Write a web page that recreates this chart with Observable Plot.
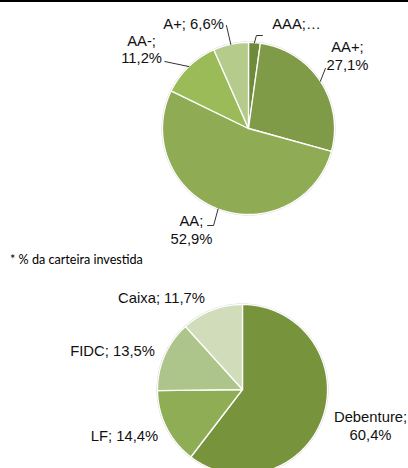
<!DOCTYPE html>
<html>
<head>
<meta charset="utf-8">
<script src="https://cdn.jsdelivr.net/npm/d3@7"></script>
<script src="https://cdn.jsdelivr.net/npm/@observablehq/plot@0.6"></script>
<style>
  html, body { margin: 0; padding: 0; background: #fff; }
  #wrap { width: 408px; height: 468px; overflow: hidden; position: relative; }
  #topline { height: 2px; background: #000; }
  #caption { height: 20px; line-height: 20px; padding-left: 10px; font-family: Lato, "Open Sans", sans-serif; font-size: 12.6px; color: #000; }
  svg { display: block; }
</style>
</head>
<body>
<div id="wrap">
  <div id="topline"></div>
  <div id="top"></div>
  <div id="caption">* % da carteira investida</div>
  <div id="bottom"></div>
</div>
<script>
// ---- data ----
const ratingNames = ["AAA", "AA+", "AA", "AA-", "A+"];
const ratingValues = [2.2, 27.1, 52.9, 11.2, 6.6];
const ratingLabels = ["AAA;\u2026", "AA+;\n27,1%", "AA;\n52,9%", "AA-;\n11,2%", "A+; 6,6%"];
const ratingColors = ["#6e8b3c", "#7f9b48", "#8fac55", "#9bbb59", "#b4cb8c"];

const assetNames = ["Debenture", "LF", "FIDC", "Caixa"];
const assetValues = [60.4, 14.4, 13.5, 11.7];
const assetLabels = ["Debenture;\n60,4%", "LF; 14,4%", "FIDC; 13,5%", "Caixa; 11,7%"];
const assetColors = ["#77933c", "#8fad55", "#adc58b", "#d0dcba"];

const caption = "* % da carteira investida";

// ---- layout (label nudges relative to slice mid-angle) ----
const ratingLabelLayout = [
  {da: 20.6, r: 1.342}, {da: -3.1, r: 1.43}, {da: 8.8, r: 1.348}, {da: -9.4, r: 1.55}, {da: -15.7, r: 1.379}
];
const ratingLeaderLayout = [
  {da: 0.9, r: 1.085, hx: 0.07}, {da: -4.7, r: 1.135, hx: 0}, {da: -0.9, r: 1.199, hx: -0.07},
  {da: -7.4, r: 1.246, hx: 0}, {da: -0.2, r: 1.225, hx: 0}
];
const assetLabelLayout = [
  {da: -3.0, r: 1.565}, {da: 5.3, r: 1.49}, {da: -6.9, r: 1.596}, {da: -20.3, r: 1.442}
];

document.getElementById("caption").textContent = caption;

const rad = d => d * Math.PI / 180;
const pt = (a, r) => ({x: r * Math.sin(rad(a)), y: r * Math.cos(rad(a))});

function slices(names, values) {
  const total = d3.sum(values);
  let acc = 0;
  return names.map((n, i) => {
    const a0 = acc / total * 360;
    acc += values[i];
    const a1 = acc / total * 360;
    return {name: n, value: values[i], a0, a1, mid: (a0 + a1) / 2};
  });
}

function polygons(sl) {
  const pts = [];
  for (const s of sl) {
    pts.push({name: s.name, x: 0, y: 0});
    const steps = Math.max(2, Math.ceil((s.a1 - s.a0) / 0.5));
    for (let k = 0; k <= steps; k++) {
      const a = s.a0 + (s.a1 - s.a0) * k / steps;
      pts.push({name: s.name, ...pt(a, 1)});
    }
  }
  return pts;
}

function circle() {
  const c = [];
  for (let a = 0; a <= 360; a += 1) c.push(pt(a, 1));
  return c;
}

function pie({names, values, colors, labels, labelLayout, leaderLayout, width, height, margins}) {
  const sl = slices(names, values);
  const labelData = sl.map((s, i) => ({text: labels[i], ...pt(s.mid + labelLayout[i].da, labelLayout[i].r)}));
  const leaderData = [];
  if (leaderLayout) {
    sl.forEach((s, i) => {
      const L = leaderLayout[i];
      const p0 = pt(s.mid, 1), p1 = pt(s.mid + L.da, L.r);
      leaderData.push({name: s.name, ...p0}, {name: s.name, ...p1});
      if (L.hx) leaderData.push({name: s.name, x: p1.x + L.hx, y: p1.y});
    });
  }
  return Plot.plot({
    width, height, ...margins,
    x: {domain: [-1, 1], axis: null},
    y: {domain: [-1, 1], axis: null},
    color: {domain: names, range: colors},
    style: {overflow: "visible"},
    marks: [
      Plot.line(circle(), {x: "x", y: "y", stroke: "#d4d4d4", strokeWidth: 2, curve: "linear-closed"}),
      Plot.line(polygons(sl), {x: "x", y: "y", z: "name", fill: "name", stroke: "white", strokeWidth: 1.3, curve: "linear-closed", strokeLinejoin: "round"}),
      Plot.line(leaderData, {x: "x", y: "y", z: "name", stroke: "#333", strokeWidth: 1}),
      Plot.text(labelData, {x: "x", y: "y", text: "text", fontSize: 14.8, fontFamily: "'Liberation Sans', Arial, sans-serif", fill: "#111", lineHeight: 1.2})
    ]
  });
}

document.getElementById("top").append(pie({
  names: ratingNames, values: ratingValues, colors: ratingColors, labels: ratingLabels,
  labelLayout: ratingLabelLayout, leaderLayout: ratingLeaderLayout,
  width: 408, height: 248,
  margins: {marginLeft: 162, marginRight: 74, marginTop: 40, marginBottom: 36}
}));

document.getElementById("bottom").append(pie({
  names: assetNames, values: assetValues, colors: assetColors, labels: assetLabels,
  labelLayout: assetLabelLayout, leaderLayout: null,
  width: 408, height: 204,
  margins: {marginLeft: 157, marginRight: 81, marginTop: 34, marginBottom: 0}
}));
</script>
</body>
</html>
